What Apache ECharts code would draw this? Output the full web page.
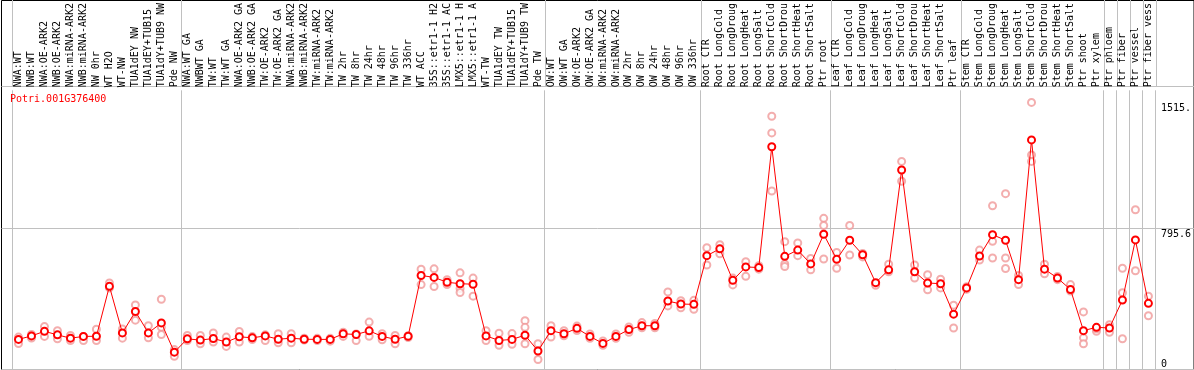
<!DOCTYPE html>
<html><head><meta charset="utf-8">
<script src="https://cdn.jsdelivr.net/npm/echarts@6/dist/echarts.min.js"></script>
<style>html,body{margin:0;padding:0;background:#fff}#c{width:1194px;height:370px}</style>
</head><body><div id="c"></div>
<script>
const geneName = 'Potri.001G376400';
const categories = [
  'NWA:WT','NWB:WT','NWA:OE-ARK2','NWB:OE-ARK2','NWA:miRNA-ARK2','NWB:miRNA-ARK2','NW 0hr','WT H2O','WT-NW','TUA1dEY NW','TUA1dEY+TUB15','TUA1dY+TUB9 NW','Pde NW',
  'NWA:WT GA','NWBWT GA','TW:WT','TW:WT GA','NWA:OE-ARK2 GA','NWB:OE-ARK2 GA','TW:OE-ARK2','TW:OE-ARK2 GA','NWA:miRNA-ARK2','NWB:miRNA-ARK2','TW:miRNA-ARK2','TW:miRNA-ARK2',
  'TW 2hr','TW 8hr','TW 24hr','TW 48hr','TW 96hr','TW 336hr','WT ACC','35S::etr1-1 H2','35S::etr1-1 AC','LMX5::etr1-1 H','LMX5::etr1-1 A','WT-TW','TUA1dEY TW','TUA1dEY+TUB15','TUA1dY+TUB9 TW','Pde TW',
  'OW:WT','OW:WT GA','OW:OE-ARK2','OW:OE-ARK2 GA','OW:miRNA-ARK2','OW:miRNA-ARK2','OW 2hr','OW 8hr','OW 24hr','OW 48hr','OW 96hr','OW 336hr',
  'Root CTR','Root LongCold','Root LongDroug','Root LongHeat','Root LongSalt','Root ShortCold','Root ShortDrou','Root ShortHeat','Root ShortSalt','Ptr root',
  'Leaf CTR','Leaf LongCold','Leaf LongDroug','Leaf LongHeat','Leaf LongSalt','Leaf ShortCold','Leaf ShortDrou','Leaf ShortHeat','Leaf ShortSalt','Ptr leaf',
  'Stem CTR','Stem LongCold','Stem LongDroug','Stem LongHeat','Stem LongSalt','Stem ShortCold','Stem ShortDrou','Stem ShortHeat','Stem ShortSalt',
  'Ptr shoot','Ptr xylem','Ptr phloem','Ptr fiber','Ptr vessel','Ptr fiber vess'
];
const meanValues = [
  169,189,215,195,176,186,187,472,206,328,206,263,96,
  172,165,174,154,184,178,189,170,176,170,169,169,
  201,197,218,186,170,187,534,523,495,487,484,189,163,169,193,103,
  219,201,232,186,146,186,225,247,247,388,371,369,
  647,686,506,583,579,1269,643,679,600,769,
  626,735,652,493,566,1136,555,491,487,313,
  463,645,767,735,510,1308,570,519,454,
  219,238,234,394,737,375
];
const replicateValues = [
  [182,145],[197,177],[242,186],[219,173],[191,163],[163,186],[227,163],[491,463],[229,176],[366,279],[247,178],[398,238,197],[73,111],
  [191,163],[191,144],[206,154],[182,129],[214,154],[168,185],[162,195],[201,150],[201,150],[176,165],[175,163],[159,175],
  [210,186],[162,200],[268,187],[201,167],[191,144],[190,180],[570,482],[572,471],[510,482],[549,459,437],[519,416],[219,163],[204,135],[202,141],[276,238,144],[144,54],
  [247,182],[219,190],[245,220],[200,175],[160,135],[200,175],[240,210],[265,235],[260,235],[440,360],[390,350],[392,341],
  [692,594],[710,658],[519,480],[613,529],[570,590],[1443,1348,1016],[727,600,585],[720,647],[631,566],[860,819,628],
  [665,575],[819,651],[640,660],[485,478],[598,555],[1185,1072],[594,519],[538,452],[513,463],[364,234],
  [455,470],[679,622],[932,729,634],[1001,634,574],[534,482],[1522,1222,1185],[598,544],[510,528],[482,445],
  [326,178,144],[215,230],[253,210],[575,435,173],[909,561],[416,304]
];
const yLabelValues = [1515, 795.6];
const yLabelTexts = ['1515.', '795.6'];
const yZeroLabel = 0;
const yMax = 1591.2;
const gridStep = 795.6;
const groupStarts = [0, 13, 41, 53, 63, 73, 84, 85, 86, 87];

const SEP = '#c0c0c0';
const FONT = 'DejaVu Sans Mono';
const sepInterval = (idx) => groupStarts.indexOf(idx) >= 0;

const repPoints = [];
replicateValues.forEach((arr, i) => arr.forEach(v => repPoints.push([i, v])));

const chart = echarts.init(document.getElementById('c'), null, {renderer: 'canvas'});
chart.setOption({
  animation: false,
  backgroundColor: '#fff',
  title: {
    text: geneName, left: 5, top: 89,
    textStyle: {color: '#ff0000', fontFamily: FONT, fontSize: 10, fontWeight: 'normal'}
  },
  grid: [
    {left: 12, right: 38, top: 0, height: 86, show: false},
    {left: 1.5, right: -10, top: 86.5, bottom: 0.5, show: true, borderColor: '#000', borderWidth: 1, backgroundColor: 'transparent'},
    {left: 12, right: 38, top: 86, bottom: 1},
    {left: 1.5, right: -10, top: 0.5, height: 86, show: true, borderColor: '#000', borderWidth: 1, backgroundColor: 'transparent'}
  ],
  xAxis: [
    {gridIndex: 0, type: 'category', data: categories, boundaryGap: true,
     axisLine: {show: false}, axisTick: {show: false}, axisLabel: {show: false},
     splitLine: {show: true, interval: sepInterval, lineStyle: {color: SEP, width: 1}}},
    {gridIndex: 1, type: 'value', show: false},
    {gridIndex: 2, type: 'category', data: categories, boundaryGap: true, position: 'top',
     axisLine: {show: false}, axisTick: {show: false},
     axisLabel: {interval: 0, rotate: 90, margin: 3, color: '#000', fontFamily: FONT, fontSize: 10},
     splitLine: {show: true, interval: sepInterval, lineStyle: {color: SEP, width: 1}}},
    {gridIndex: 3, type: 'value', show: false}
  ],
  yAxis: [
    {gridIndex: 0, type: 'value', show: false},
    {gridIndex: 1, type: 'value', min: 0, max: yMax, interval: gridStep,
     axisLine: {show: false}, axisTick: {show: false}, axisLabel: {show: false},
     splitLine: {show: true, lineStyle: {color: SEP, width: 1}}},
    {gridIndex: 2, type: 'value', min: 0, max: yMax, position: 'right',
     axisLine: {show: false}, axisTick: {show: false}, splitLine: {show: false},
     axisLabel: {customValues: yLabelValues, margin: 6, color: '#000', fontFamily: FONT, fontSize: 10,
       verticalAlign: 'top', formatter: v => yLabelTexts[yLabelValues.indexOf(v)] ?? String(v)}},
    {gridIndex: 2, type: 'value', min: 0, max: yMax, position: 'right',
     axisLine: {show: false}, axisTick: {show: false}, splitLine: {show: false},
     axisLabel: {customValues: [yZeroLabel], margin: 6, color: '#000', fontFamily: FONT, fontSize: 10,
       verticalAlign: 'bottom', formatter: v => String(v)}},
    {gridIndex: 3, type: 'value', show: false}
  ],
  series: [
    {type: 'scatter', name: 'replicates', xAxisIndex: 2, yAxisIndex: 2, data: repPoints,
     symbol: 'emptyCircle', symbolSize: 7, z: 2,
     itemStyle: {color: '#f09a9a', borderColor: '#f09a9a', borderWidth: 1.1}},
    {type: 'line', name: 'mean', xAxisIndex: 2, yAxisIndex: 2, data: meanValues,
     symbol: 'emptyCircle', symbolSize: 7, showAllSymbol: true, z: 3,
     lineStyle: {color: '#ff0000', width: 1},
     itemStyle: {color: '#ff0000', borderColor: '#ff0000', borderWidth: 1.5}}
  ]
});
</script></body></html>
